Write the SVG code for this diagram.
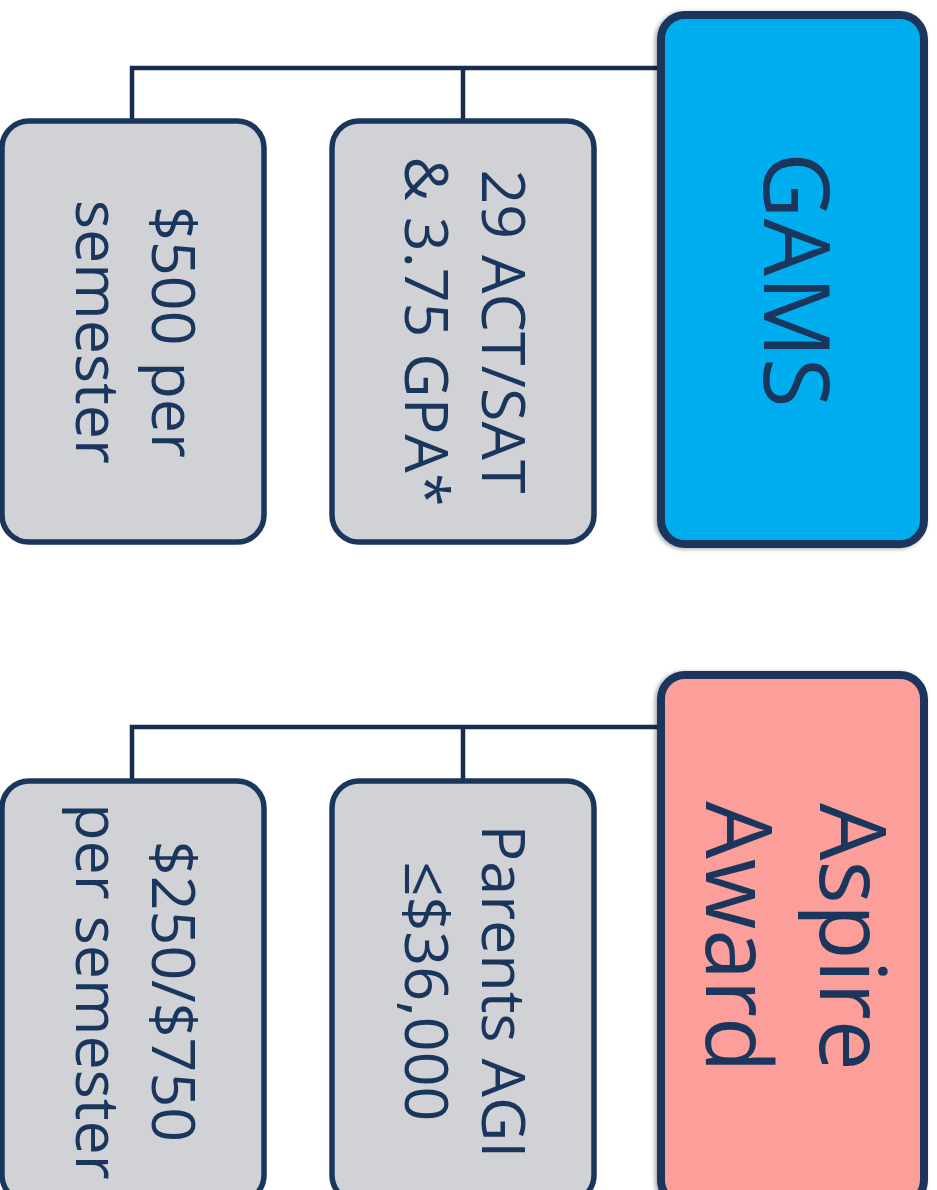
<svg xmlns="http://www.w3.org/2000/svg" width="937" height="1190" viewBox="0 0 937 1190">
<defs>
<filter id="sh" x="-10%" y="-10%" width="120%" height="120%">
<feDropShadow dx="-2" dy="1" stdDeviation="2" flood-color="#000" flood-opacity="0.35"/>
</filter>
</defs>
<style>
.main{stroke:#1b365d;stroke-width:8}
.sub{fill:#d0d2d6;stroke:#1b365d;stroke-width:5.5}
.con{fill:none;stroke:#162d50;stroke-width:4.5}
text{font-family:"Open Sans","Noto Sans","Liberation Sans",sans-serif;fill:#1b365d;text-anchor:middle}
.big{font-size:91px}
.sm{font-size:61px}
</style>
<rect width="937" height="1190" fill="#ffffff"/>
<g id="connectors">
<path class="con" d="M661 68 H132 V121 M463 68 V121"/>
<path class="con" d="M661 727 H132 V781 M463 727 V781"/>
</g>
<g id="gams">
<rect class="main" x="661" y="15" width="263" height="529" rx="24" fill="#00adef" filter="url(#sh)"/>
<text class="big" transform="rotate(90)" x="280" y="-764">GAMS</text>
</g>
<g id="gams-req">
<rect class="sub" x="332" y="121" width="262" height="421" rx="27"/>
<text class="sm" transform="rotate(90)"><tspan x="331.5" y="-482">29 ACT/SAT</tspan><tspan x="331.5" y="-405">&amp; 3.75 GPA*</tspan></text>
</g>
<g id="gams-amt">
<rect class="sub" x="2" y="121" width="262" height="421" rx="27"/>
<text class="sm" transform="rotate(90)"><tspan x="332" y="-152">$500 per</tspan><tspan x="332" y="-76">semester</tspan></text>
</g>
<g id="aspire">
<rect class="main" x="661" y="675" width="263" height="529" rx="24" fill="#fc9e99" filter="url(#sh)"/>
<text class="big" transform="rotate(90)"><tspan x="937" y="-820">Aspire</tspan><tspan x="937" y="-706">Award</tspan></text>
</g>
<g id="aspire-req">
<rect class="sub" x="332" y="781" width="262" height="421" rx="27"/>
<text class="sm" transform="rotate(90)"><tspan x="991.5" y="-482">Parents AGI</tspan><tspan x="991.5" y="-405">≤$36,000</tspan></text>
</g>
<g id="aspire-amt">
<rect class="sub" x="2" y="781" width="262" height="421" rx="27"/>
<text class="sm" transform="rotate(90)"><tspan x="991.5" y="-152">$250/$750</tspan><tspan x="991.5" y="-76">per semester</tspan></text>
</g>
</svg>
